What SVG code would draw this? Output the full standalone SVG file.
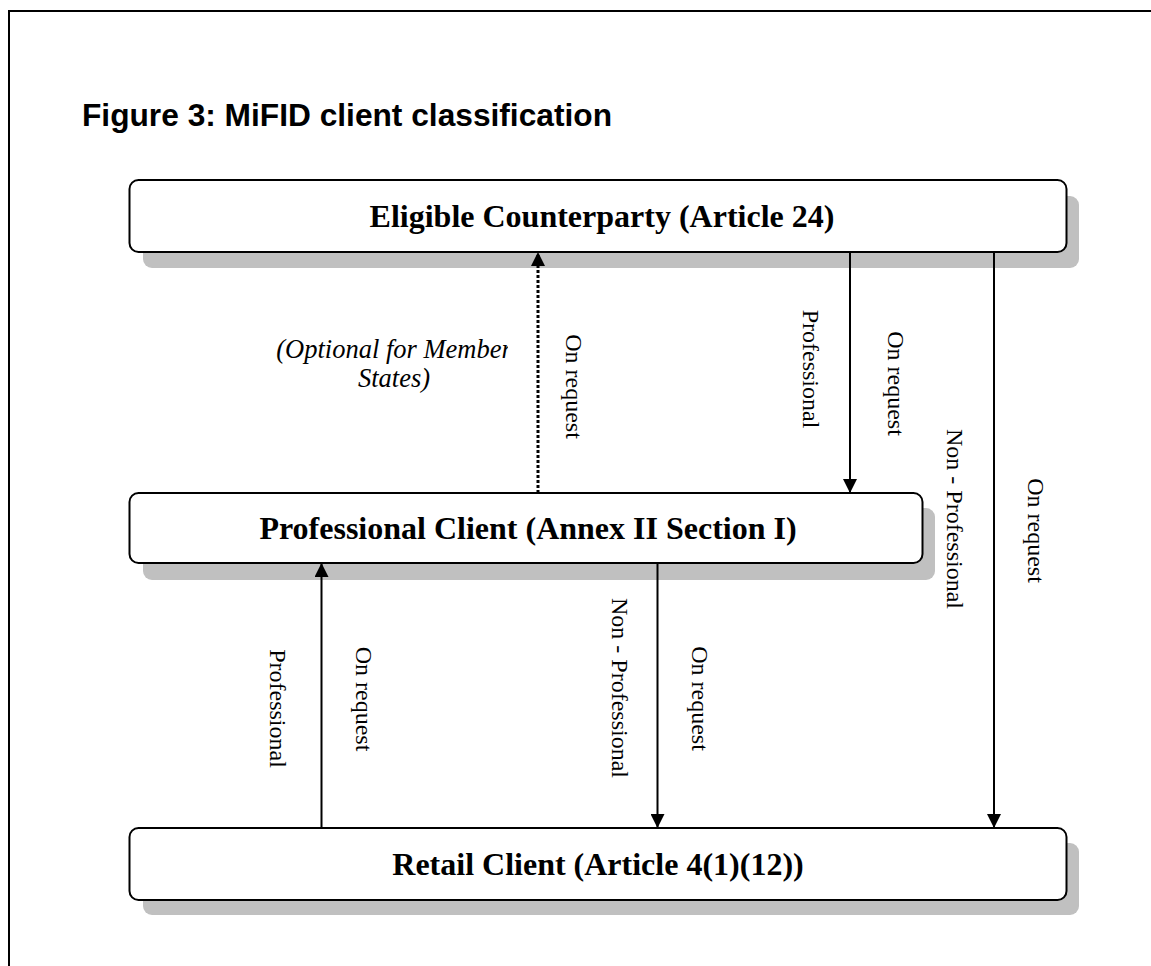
<svg xmlns="http://www.w3.org/2000/svg" width="1151" height="966" viewBox="0 0 1151 966">
<defs>
<style>
.frame{fill:none;stroke:#000;stroke-width:2}
.shadow{fill:#c0c0c0}
.box{fill:#fff;stroke:#000;stroke-width:2}
.title{font-family:"Liberation Sans",Arial,sans-serif;font-weight:bold;font-size:31.7px;fill:#000}
.btxt{font-family:"Liberation Serif","Times New Roman",serif;font-weight:bold;font-size:32px;fill:#000;text-anchor:middle}
.lbl{font-family:"Liberation Serif","Times New Roman",serif;font-size:24px;fill:#000;text-anchor:middle}
.ital{font-family:"Liberation Serif","Times New Roman",serif;font-style:italic;font-size:26.5px;fill:#000;text-anchor:middle}
.line{stroke:#000;stroke-width:2;fill:none}
.dot{stroke:#000;stroke-width:3;fill:none;stroke-dasharray:3 2}
</style>
<marker id="ah" viewBox="0 0 14 14" refX="14" refY="7" markerWidth="14" markerHeight="14" markerUnits="userSpaceOnUse" orient="auto">
<path d="M0,0 L14,7 L0,14 Z" fill="#000"/>
</marker>
<clipPath id="optclip"><rect x="260" y="320" width="248" height="80"/></clipPath>
</defs>
<rect width="1151" height="966" fill="#fff"/>
<rect class="frame" x="9" y="11" width="1200" height="1000"/>
<text class="title" x="82" y="126">Figure 3: MiFID client classification</text>

<g id="eligible">
<rect class="shadow" x="143" y="196" width="936" height="72" rx="9"/>
<rect class="box" x="129.5" y="180" width="937" height="72" rx="9"/>
<text class="btxt" x="602" y="227">Eligible Counterparty (Article 24)</text>
</g>
<g id="professional">
<rect class="shadow" x="143" y="508" width="792" height="72" rx="9"/>
<rect class="box" x="129.5" y="493" width="793" height="70" rx="9"/>
<text class="btxt" x="528" y="539">Professional Client (Annex II Section I)</text>
</g>
<g id="retail">
<rect class="shadow" x="143" y="843" width="936" height="72" rx="9"/>
<rect class="box" x="129.5" y="828" width="937" height="72" rx="9"/>
<text class="btxt" x="598" y="875">Retail Client (Article 4(1)(12))</text>
</g>

<g id="connectors">
<line class="dot" x1="538" y1="493" x2="538" y2="252" marker-end="url(#ah)"/>
<line class="line" x1="850" y1="252" x2="850" y2="493" marker-end="url(#ah)"/>
<line class="line" x1="994" y1="252" x2="994" y2="828" marker-end="url(#ah)"/>
<line class="line" x1="321.5" y1="828" x2="321.5" y2="563" marker-end="url(#ah)"/>
<line class="line" x1="657.5" y1="563" x2="657.5" y2="828" marker-end="url(#ah)"/>
</g>

<g id="labels">
<g clip-path="url(#optclip)">
<text class="ital" x="394" y="358">(Optional for Member</text>
</g>
<text class="ital" x="394" y="387">States)</text>
<text class="lbl" transform="translate(566,386.5) rotate(90)">On request</text>
<text class="lbl" transform="translate(803,369) rotate(90)">Professional</text>
<text class="lbl" transform="translate(888,383.5) rotate(90)">On request</text>
<text class="lbl" transform="translate(947,519) rotate(90)">Non - Professional</text>
<text class="lbl" transform="translate(1028,530.5) rotate(90)">On request</text>
<text class="lbl" transform="translate(270,708.5) rotate(90)">Professional</text>
<text class="lbl" transform="translate(356,699) rotate(90)">On request</text>
<text class="lbl" transform="translate(612,688) rotate(90)">Non - Professional</text>
<text class="lbl" transform="translate(692,698.5) rotate(90)">On request</text>
</g>
</svg>
